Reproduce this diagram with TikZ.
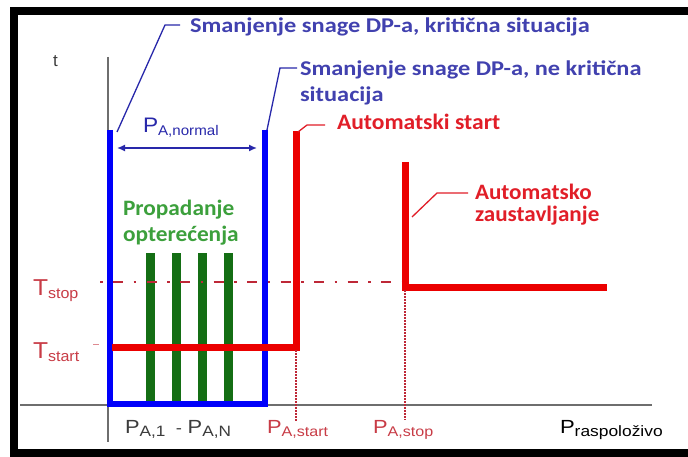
\documentclass[tikz,border=0pt]{standalone}
\usepackage{graphicx}
\usepackage{fontspec}
\setmainfont{Liberation Sans}
\newfontfamily\calfont{Carlito}
\usetikzlibrary{arrows.meta}
\definecolor{pblue}{RGB}{0,0,250}
\definecolor{nblue}{RGB}{40,40,170}
\definecolor{tblue}{RGB}{65,65,175}
\definecolor{pred}{RGB}{235,0,0}
\definecolor{tred}{RGB}{225,30,40}
\definecolor{dred}{RGB}{190,40,55}
\definecolor{lred}{RGB}{200,60,70}
\definecolor{dgreen}{RGB}{20,110,20}
\definecolor{tgreen}{RGB}{60,160,60}
\definecolor{axgray}{RGB}{110,110,110}
\definecolor{lblack}{RGB}{60,60,60}
\newcommand{\sublab}[4]{{\fontsize{#1}{#1}\selectfont #3}{\fontsize{#2}{#2}\selectfont\raisebox{-3pt}{#4}}}
\newcommand{\wide}[2]{\scalebox{#1}[1]{#2}}
\begin{document}
\begin{tikzpicture}[x=1pt,y=-1pt,
  lab/.style={anchor=base west,inner sep=0pt,outer sep=0pt},
  bluetxt/.style={lab,text=tblue,font=\calfont\bfseries\fontsize{21}{21}\selectfont},
  redtxt/.style={lab,text=tred,font=\calfont\bfseries\fontsize{22}{22}\selectfont},
  greentxt/.style={lab,text=tgreen,font=\calfont\bfseries\fontsize{22}{22}\selectfont},
  leaderb/.style={nblue,line width=1.3pt},
  leaderr/.style={tred,line width=1.3pt},
  axis/.style={axgray,line width=1.5pt},
  bar/.style={dgreen,line width=9pt},
  bluebox/.style={pblue,line width=6pt,line join=miter},
  redline/.style={pred,line width=7pt,line join=miter},
  dotv/.style={dred,line width=1.5pt,dash pattern=on 1.5pt off 1.5pt}
]
\useasboundingbox (0,0) rectangle (688,457);
\clip (0,0) rectangle (688,457);
\fill[white] (0,0) rectangle (688,457);
% frame
\draw[line width=8pt] (14,11) rectangle (700,453);
% axes
\coordinate (xa) at (20,405);
\coordinate (xb) at (652,405);
\coordinate (ya) at (108,57);
\coordinate (yb) at (108,442);
\draw[axis] (xa) -- (xb);
\draw[axis] (ya) -- (yb);
% green bars
\foreach \i/\x in {1/150,2/176,3/202,4/228}{
  \coordinate (g\i t) at (\x,253);
  \coordinate (g\i b) at (\x,401);
  \draw[bar] (g\i t) -- (g\i b);
}
% blue U
\coordinate (bl) at (110,130);
\coordinate (blb) at (110,404);
\coordinate (brb) at (265,404);
\coordinate (br) at (265,130);
\draw[bluebox] (bl) -- (blb) -- (brb) -- (br);
% Tstop dash-dot
\coordinate (ts1) at (100,282);
\coordinate (ts2) at (403,282);
\draw[dred,line width=2pt,dash pattern=on 2.5pt off 10.5pt on 10pt off 10.5pt] (ts1) -- (ts2);
% red start
\coordinate (rs1) at (112,347);
\coordinate (rs2) at (296,347);
\coordinate (rs3) at (296,131);
\draw[redline] (rs1) -- (rs2) -- (rs3);
% red stop
\coordinate (rp1) at (405,162);
\coordinate (rp2) at (405,287);
\coordinate (rp3) at (607,287);
\draw[redline] (rp1) -- (rp2) -- (rp3);
% dotted
\coordinate (ds1) at (296,350);
\coordinate (ds2) at (296,422);
\coordinate (dp1) at (405,290);
\coordinate (dp2) at (405,420);
\draw[dotv] (ds1) -- (ds2);
\draw[dotv] (dp1) -- (dp2);
% small tick at Tstart
\coordinate (tk1) at (93,344);
\coordinate (tk2) at (99,344);
\draw[lred!60,line width=0.8pt] (tk1) -- (tk2);
% arrow P_A,normal
\coordinate (ar1) at (117,148);
\coordinate (ar2) at (257,148);
\draw[nblue,line width=1.5pt,{Latex[length=8pt,width=7pt]}-{Latex[length=8pt,width=7pt]}] (ar1) -- (ar2);
\node[lab,text=nblue] (pnorm) at (143,133) {\wide{1.08}{\sublab{21}{14}{P}{A,normal}}};
% labels
\node[lab,text=lblack,font=\fontsize{17}{17}\selectfont] (t) at (53,67) {t};
\node[bluetxt] (l1) at (190,33) {\wide{1.16}{Smanjenje snage DP-a, kritična situacija}};
\node[bluetxt] (l2) at (300,76) {\wide{1.16}{Smanjenje snage DP-a, ne kritična}};
\node[bluetxt] (l2b) at (300,102) {\wide{1.16}{situacija}};
\node[redtxt] (l3) at (337,130) {\wide{1.07}{Automatski start}};
\node[redtxt] (l4) at (475,200) {\wide{1.05}{Automatsko}};
\node[redtxt] (l4b) at (475,222) {\wide{1.05}{zaustavljanje}};
\node[greentxt] (l5) at (123,216) {\wide{1.06}{Propadanje}};
\node[greentxt] (l5b) at (123,241) {\wide{1.06}{opterećenja}};
% leaders
\coordinate (k1) at (165,25); \coordinate (e1) at (180,25);
\draw[leaderb] (117,132) coordinate (s1) -- (k1) -- (e1);
\coordinate (k2) at (280,68); \coordinate (e2) at (297,68);
\draw[leaderb] (267,130) coordinate (s2) -- (k2) -- (e2);
\coordinate (k3) at (307,125); \coordinate (e3) at (325,125);
\draw[leaderr] (298,132) coordinate (s3) -- (k3) -- (e3);
\coordinate (k4) at (437,193); \coordinate (e4) at (468,193);
\draw[leaderr] (412,217) coordinate (s4) -- (k4) -- (e4);
% T labels
\node[lab,text=lred] (tstop) at (33,295) {\wide{1.07}{\sublab{23}{15}{T}{stop}}};
\node[lab,text=lred] (tstart) at (33,358) {\wide{1.07}{\sublab{23}{15}{T}{start}}};
% bottom labels
\node[lab,text=lblack] (pa1) at (125,433) {\wide{1.15}{\sublab{19}{15}{P}{A,1}\hspace{9pt}{\fontsize{16}{16}\selectfont -}\hspace{5pt}\sublab{19}{15}{P}{A,N}}};
\node[lab,text=lred] (pastart) at (267,433) {\wide{1.15}{\sublab{19}{14}{P}{A,start}}};
\node[lab,text=lred] (pastop) at (373,433) {\wide{1.15}{\sublab{19}{14}{P}{A,stop}}};
\node[lab,text=black] (prasp) at (560,433) {\wide{1.16}{\sublab{19}{15}{P}{raspoloživo}}};
\end{tikzpicture}
\end{document}
